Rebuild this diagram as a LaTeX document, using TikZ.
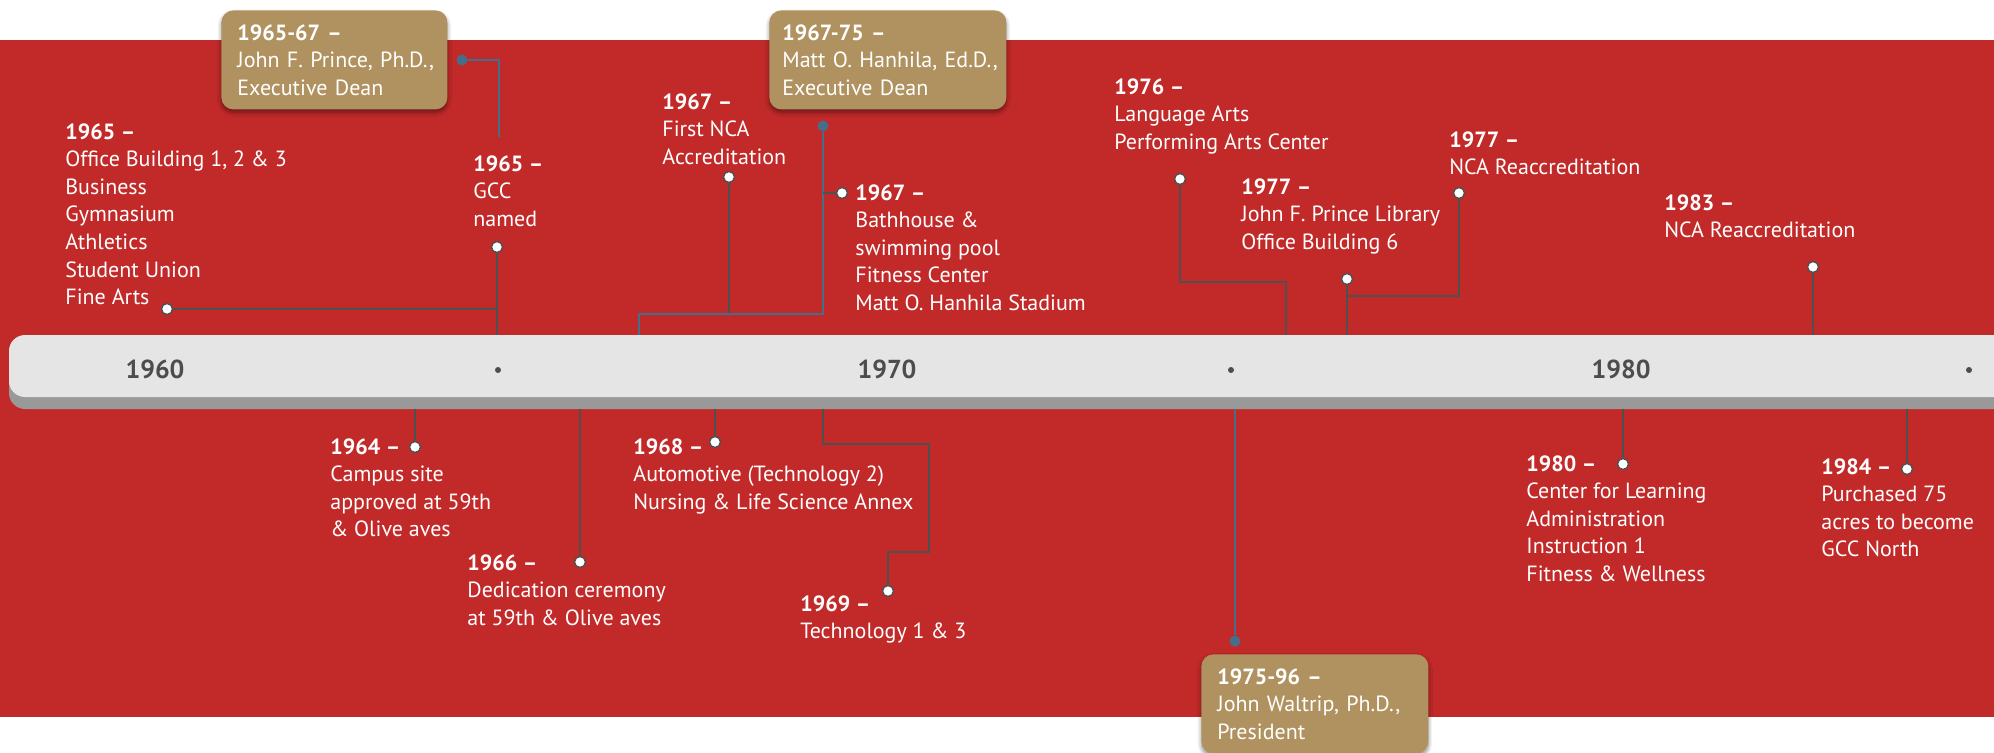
\documentclass[tikz,border=0pt]{standalone}
\usepackage{fontspec}
\setmainfont{PT Sans}
\usetikzlibrary{positioning, shadows, shadows.blur}
\definecolor{bandRed}{RGB}{194,41,41}
\definecolor{goldBox}{RGB}{176,146,96}
\definecolor{barLight}{RGB}{229,229,229}
\definecolor{barShadow}{RGB}{153,153,153}
\definecolor{lineGray}{RGB}{80,80,80}
\definecolor{presBlue}{RGB}{70,110,138}
\definecolor{yearGray}{RGB}{77,77,77}

\newcommand{\yr}[1]{\textbf{#1 --}}

\begin{document}
\begin{tikzpicture}[x=0.5pt, y=-0.5pt,
    event/.style={anchor=north west, align=left, inner sep=0pt, text=white,
      font=\fontsize{11}{13.8}\selectfont},
    dot/.style={circle, draw=lineGray, fill=white, line width=0.7pt, inner sep=0pt, minimum size=5.5pt},
    presdot/.style={circle, fill=presBlue, inner sep=0pt, minimum size=5.5pt},
    link/.style={lineGray, line width=0.8pt},
    preslink/.style={presBlue, line width=0.8pt},
    presbox/.style={anchor=north west, fill=goldBox, rounded corners=6pt, align=left,
      inner xsep=8pt, inner ysep=0pt, minimum height=49.5pt, text=white,
      font=\fontsize{11}{13.8}\selectfont,
      blur shadow={shadow xshift=0pt, shadow yshift=-1.5pt, shadow blur steps=8, shadow opacity=45}},
    tick/.style={circle, fill=yearGray, inner sep=0pt, minimum size=3pt},
    decade/.style={text=yearGray, font=\fontsize{13}{15}\selectfont\bfseries}]
    \useasboundingbox (0,0) rectangle (1994,752);

    % Background band and bar
    \fill[bandRed] (0,40) rectangle (1994,717);
    \fill[barShadow, rounded corners=8pt] (9,347) rectangle (2030,409);
    \fill[barLight, rounded corners=8pt] (9,335) rectangle (2030,397);

    % Decades
    \node[decade] (y1960) at (155,369) {1960};
    \node[decade] (y1970) at (887,369) {1970};
    \node[decade] (y1980) at (1621,369) {1980};
    \node[tick] (t1965) at (498,370) {};
    \node[tick] (t1975) at (1231,370) {};
    \node[tick] (t1985) at (1969,370) {};

    % Bar points
    \coordinate (bGcc) at (497,335);
    \coordinate (bNca67) at (639,335);
    \coordinate (bLang) at (1286,335);
    \coordinate (bLib) at (1347,335);
    \coordinate (bNca83) at (1813,335);
    \coordinate (bCampus) at (415,409);
    \coordinate (bDedic) at (580,409);
    \coordinate (bAuto) at (715,409);
    \coordinate (bTech) at (823,409);
    \coordinate (bWaltrip) at (1235,409);
    \coordinate (bLearn) at (1623,409);
    \coordinate (bAcres) at (1907,409);

    % Bends
    \coordinate (cPrince) at (499,137);
    \coordinate (jNca67) at (639,314);
    \coordinate (jLang) at (1286,282);
    \coordinate (jLib) at (1347,296);
    \coordinate (kTech1) at (929,444);
    \coordinate (kTech2) at (888,552);

    % Dots
    \node[dot] (dOffice) at (167,309) {};
    \node[dot] (dGcc) at (497,247) {};
    \node[dot] (dNca67) at (729,177) {};
    \node[dot] (dBath) at (842,193) {};
    \node[dot] (dLang) at (1180,179) {};
    \node[dot] (dLib) at (1347,279) {};
    \node[dot] (dNca77) at (1459,193) {};
    \node[dot] (dNca83) at (1813,267) {};
    \node[dot] (dCampus) at (415,447) {};
    \node[dot] (dDedic) at (580,562) {};
    \node[dot] (dAuto) at (715,442) {};
    \node[dot] (dTech) at (888,591) {};
    \node[dot] (dLearn) at (1623,464) {};
    \node[dot] (dAcres) at (1907,469) {};
    \node[presdot] (pPrince) at (462,60) {};
    \node[presdot] (pHanhila) at (823,126) {};
    \node[presdot] (pWaltrip) at (1235,641) {};

    % Connectors
    \draw[link] (dOffice) -- (dOffice -| bGcc);
    \draw[link] (dGcc) -- (bGcc);
    \draw[preslink] (pPrince) -| (cPrince);
    \draw[link] (dNca67) -- (dNca67 |- jNca67);
    \draw[preslink] (pHanhila) |- (jNca67) -- (bNca67);
    \draw[link] (dBath) -- (dBath -| pHanhila);
    \draw[link] (dLang) |- (jLang) -- (bLang);
    \draw[link] (dLib) -- (bLib);
    \draw[link] (dNca77) |- (jLib);
    \draw[link] (dNca83) -- (bNca83);
    \draw[link] (bCampus) -- (dCampus);
    \draw[link] (bDedic) -- (dDedic);
    \draw[link] (bAuto) -- (dAuto);
    \draw[link] (bTech) |- (kTech1) |- (kTech2) -- (dTech);
    \draw[preslink] (bWaltrip) -- (pWaltrip);
    \draw[link] (bLearn) -- (dLearn);
    \draw[link] (bAcres) -- (dAcres);

    % Events above the bar
    \node[event] (tOffice) at (65,123) {\yr{1965}\\Office Building 1, 2 \& 3\\Business\\Gymnasium\\Athletics\\Student Union\\Fine Arts};
    \node[event] (tGcc) at (473,155) {\yr{1965}\\GCC\\named};
    \node[event] (tNca67) at (662,93) {\yr{1967}\\First NCA\\Accreditation};
    \node[event] (tBath) at (855,184) {\yr{1967}\\Bathhouse \&\\swimming pool\\Fitness Center\\Matt O. Hanhila Stadium};
    \node[event] (tLang) at (1114,78) {\yr{1976}\\Language Arts\\Performing Arts Center};
    \node[event] (tLib) at (1241,178) {\yr{1977}\\John F. Prince Library\\Office Building 6};
    \node[event] (tNca77) at (1449,131) {\yr{1977}\\NCA Reaccreditation};
    \node[event] (tNca83) at (1664,194) {\yr{1983}\\NCA Reaccreditation};

    % Events below the bar
    \node[event] (tCampus) at (330,438) {\yr{1964}\\Campus site\\approved at 59th\\\& Olive aves};
    \node[event] (tDedic) at (467,554) {\yr{1966}\\Dedication ceremony\\at 59th \& Olive aves};
    \node[event] (tAuto) at (633,438) {\yr{1968}\\Automotive (Technology 2)\\Nursing \& Life Science Annex};
    \node[event] (tTech) at (800,595) {\yr{1969}\\Technology 1 \& 3};
    \node[event] (tLearn) at (1526,455) {\yr{1980}\\Center for Learning\\Administration\\Instruction 1\\Fitness \& Wellness};
    \node[event] (tAcres) at (1821,458) {\yr{1984}\\Purchased 75\\acres to become\\GCC North};

    % Presidents
    \node[presbox, text width=97pt] (bxPrince) at (221,10) {\yr{1965-67}\\\mbox{John F. Prince, Ph.D.,}\\Executive Dean};
    \node[presbox, text width=105.5pt, inner xsep=6.5pt] (bxHanhila) at (769,10) {\yr{1967-75}\\\mbox{Matt O. Hanhila, Ed.D.,}\\Executive Dean};
    \node[presbox, text width=97.5pt] (bxWaltrip) at (1201,654) {\yr{1975-96}\\\mbox{John Waltrip, Ph.D.,}\\President};
\end{tikzpicture}
\end{document}
